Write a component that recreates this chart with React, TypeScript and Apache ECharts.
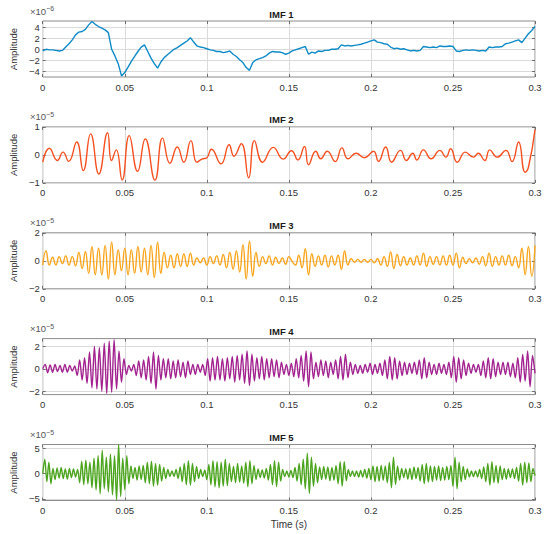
import React, { useEffect, useRef } from "react";
import * as echarts from "echarts";

// ---- Data (amplitudes in units of the axis multiplier shown above each panel) ----
const IMF1_STEP = 0.002; // s
const imf1 = [
  -0.3, 0.0, -0.1, -0.1, -0.2, -0.3, -0.2, 0.4, 1.0, 1.7,
  2.6, 3.1, 3.2, 3.6, 4.4, 5.0, 4.5, 4.1, 3.8, 3.5,
  3.0, 0.0, -1.2, -2.6, -4.8, -4.2, -3.2, -2.2, -1.3, -0.4,
  0.4, 0.8, -0.4, -1.6, -2.6, -3.4, -2.3, -1.5, -1.0, -0.5,
  0.0, 0.3, 0.7, 1.1, 1.5, 2.1, 1.3, 0.6, 0.4, 0.3,
  0.1, -0.1, -0.2, -0.4, -0.4, -0.6, -0.5, -0.3, -0.9, -1.3,
  -1.9, -2.4, -3.3, -3.8, -2.4, -1.9, -1.7, -1.5, -1.2, -0.7,
  -0.4, -0.5, -0.5, -0.6, -0.9, -0.7, -0.3, -0.1, 0.1, 0.3,
  0.5, -0.9, -0.5, -0.7, -0.3, -0.4, -0.2, -0.2, 0.0, 0.0,
  0.1, 0.8, 0.6, 0.7, 0.6, 0.7, 0.8, 0.9, 1.1, 1.3,
  1.5, 1.7, 1.3, 1.2, 1.0, 0.9, 0.4, 0.1, 0.2, 0.0,
  0.1, -0.1, -0.3, -0.2, -0.3, -0.2, 0.5, 0.4, 0.3, 0.4,
  0.3, 0.6, 0.5, 0.5, 0.6, 0.5, -0.3, -0.4, -0.2, -0.1,
  -0.2, -0.1, -0.2, -0.3, -0.2, -0.3, 0.4, 0.3, 0.4, 0.4,
  0.5, 1.0, 1.1, 1.3, 1.5, 1.7, 1.2, 2.0, 2.8, 3.4,
  4.1,
];

const imf2Time = [
  0.0, 0.004, 0.0089, 0.0124, 0.0158, 0.0207, 0.0247, 0.0292, 0.0342, 0.0395,
  0.0419, 0.0448, 0.0484, 0.0527, 0.0578, 0.0625, 0.0684, 0.073, 0.0775, 0.082,
  0.086, 0.0903, 0.0939, 0.097, 0.1, 0.1028, 0.1087, 0.1136, 0.1165, 0.121,
  0.1255, 0.129, 0.134, 0.1405, 0.1465, 0.1516, 0.1555, 0.1595, 0.162, 0.1664,
  0.1694, 0.1734, 0.1783, 0.1823, 0.186, 0.191, 0.196, 0.2016, 0.2046, 0.209,
  0.2126, 0.218, 0.2216, 0.2255, 0.228, 0.232, 0.2367, 0.242, 0.2457, 0.2486,
  0.2526, 0.2575, 0.2625, 0.2654, 0.2694, 0.2724, 0.277, 0.2823, 0.286, 0.29,
  0.294, 0.296, 0.3,
];
const imf2Value = [
  -0.26, 0.24, -0.2, 0.1, -0.23, 0.46, -0.56, 0.75, -0.68, 0.79,
  -0.2, 0.18, -0.9, 0.69, -0.59, 0.57, -0.9, 0.6, -0.3, 0.28,
  -0.26, 0.51, -0.26, -0.15, -0.1, 0.2, -0.32, 0.36, -0.05, 0.4,
  -0.82, 0.51, -0.26, 0.27, -0.15, 0.15, -0.18, 0.3, -0.35, 0.13,
  -0.14, 0.13, -0.24, 0.25, -0.14, 0.06, -0.1, 0.13, -0.23, 0.28,
  -0.26, 0.16, -0.2, 0.06, -0.18, 0.18, -0.14, 0.16, -0.08, 0.22,
  -0.26, 0.1, -0.08, 0.06, -0.2, 0.18, -0.08, 0.16, -0.24, 0.46,
  -0.62, -0.44, 0.9,
];

const IMF3_STEP = 0.002;
const imf3 = [
  -0.3, 0.7, -0.3, 0.25, -0.3, 0.3, -0.2, 0.35, -0.3, 0.3,
  -0.35, 0.6, -0.55, 0.65, -0.9, 1.0, -1.0, 0.9, -1.0, 1.1,
  -1.3, 1.35, -1.0, 0.8, -0.7, 0.9, -1.0, 0.8, -0.9, 1.0,
  -0.8, 0.9, -1.0, 1.1, -1.2, 1.35, -0.9, 0.6, -0.5, 0.4,
  -0.5, 0.5, -0.4, 0.5, -0.4, 0.55, -0.3, 0.2, -0.15, 0.2,
  -0.3, 0.3, -0.2, 0.35, -0.3, 0.45, -0.5, 0.6, -0.6, 0.7,
  -0.8, 1.15, -1.3, 1.4, -1.1, 0.6, -0.4, 0.3, -0.2, 0.35,
  -0.3, 0.25, -0.2, 0.2, -0.25, 0.3, -0.05, -0.3, 0.4, -0.5,
  0.87, -1.0, 0.5, -0.4, 0.35, -0.3, 0.4, -0.45, 0.35, -0.3,
  0.4, -0.6, 0.7, -0.3, 0.15, -0.1, 0.1, -0.1, 0.1, -0.1,
  0.1, -0.15, 0.15, -0.3, 0.3, -0.4, 0.64, -0.55, 0.45, -0.35,
  0.3, -0.3, 0.2, -0.3, 0.35, -0.3, 0.55, -0.4, 0.3, -0.25,
  0.3, -0.3, 0.35, -0.3, 0.4, -0.3, 0.55, -0.5, 0.25, -0.2,
  0.15, -0.15, 0.2, -0.25, 0.3, -0.35, 0.55, -0.4, 0.3, -0.3,
  0.35, -0.3, 0.4, -0.35, 0.3, -0.5, 0.9, -1.0, 1.0, -1.1,
  1.1,
];

const IMF4_STEP = 0.0015;
const imf4 = [
  0.0, 0.4, -0.35, 0.35, -0.3, 0.4, -0.25, 0.3, -0.3, 0.4,
  -0.3, 0.3, -0.2, 0.25, -0.6, 0.8, -1.0, 1.0, -1.3, 1.5,
  -1.7, 2.0, -1.8, 1.9, -2.0, 2.3, -2.2, 2.5, -2.1, 2.6,
  -1.8, 1.6, -1.2, 0.9, -0.5, 0.3, -0.2, 0.4, -0.6, 0.7,
  -0.8, 0.8, -1.0, 1.1, -1.3, 1.5, -1.8, 1.2, -1.0, 0.9,
  -0.8, 0.9, -0.9, 0.7, -0.8, 0.8, -0.7, 0.6, -0.8, 0.7,
  -0.5, 0.4, -0.5, 0.4, -0.3, 0.4, -0.6, 0.9, -1.1, 1.0,
  -1.0, 1.1, -1.0, 0.9, -1.1, 1.0, -0.9, 1.1, -1.2, 1.2,
  -1.0, 1.3, -1.3, 1.6, -1.5, 1.3, -1.1, 1.0, -0.9, 1.1,
  -1.0, 0.9, -0.8, 0.9, -0.7, 0.8, -0.8, 0.6, -0.5, 0.4,
  -0.6, 0.5, -0.7, 0.9, -0.8, 1.2, -1.1, 1.6, -1.6, 1.5,
  -0.9, 0.6, -0.7, 0.8, -0.6, 0.7, -0.8, 0.6, -0.5, 0.8,
  -0.9, 1.1, -1.0, 1.3, -0.8, 0.6, -0.5, 0.4, -0.4, 0.3,
  -0.4, 0.4, -0.3, 0.5, -0.5, 0.4, -0.4, 0.5, -0.6, 0.8,
  -0.9, 1.1, -1.0, 1.0, -0.9, 0.7, -0.6, 0.6, -0.5, 0.5,
  -0.4, 0.6, -0.5, 0.8, -0.9, 1.0, -0.8, 0.6, -0.5, 0.4,
  -0.5, 0.5, -0.4, 0.4, -0.5, 0.6, -0.8, 1.1, -1.2, 1.0,
  -0.9, 0.8, -0.6, 0.5, -0.4, 0.4, -0.3, 0.4, -0.6, 0.7,
  -0.8, 1.0, -0.9, 0.9, -0.7, 0.6, -0.5, 0.6, -0.5, 0.6,
  -0.7, 0.5, -0.8, 1.0, -1.2, 1.3, -1.1, 1.6, -1.6, 1.2,
  -0.4,
];

const IMF5_STEP = 0.00125;
const imf5 = [
  0.0, 2.8, -1.6, 2.2, -2.0, 1.0, -1.2, 1.1, -0.9, 1.2,
  -1.0, 0.9, -1.1, 1.0, -0.8, 0.9, -0.7, 0.8, -1.8, 2.4,
  -2.2, 2.6, -2.0, 2.2, -2.8, 3.0, -3.2, 3.5, -4.0, 4.6,
  -3.0, 3.2, -3.6, 3.8, -4.2, 3.5, -5.2, 5.7, -4.5, 3.0,
  -3.2, 3.5, -2.0, 1.5, -1.0, 1.2, -1.3, 1.5, -1.2, 1.6,
  -1.8, 2.2, -2.0, 2.4, -2.5, 2.0, -2.3, 1.8, -1.5, 1.2,
  -1.0, 0.8, -0.6, 0.5, -0.6, 0.8, -1.0, 1.3, -1.6, 2.0,
  -2.2, 2.5, -2.3, 2.0, -1.6, 1.4, -1.0, 0.8, -0.6, 0.7,
  -1.2, 1.8, -2.2, 2.5, -2.6, 2.3, -2.8, 2.2, -2.5, 2.8,
  -2.4, 2.0, -1.6, 1.4, -1.8, 2.0, -1.7, 1.5, -1.9, 2.2,
  -2.6, 2.5, -2.0, 1.6, -1.2, 0.9, -0.8, 0.7, -0.9, 1.0,
  -1.3, 1.8, -2.2, 2.5, -2.6, 2.2, -1.5, 0.8, -0.6, 0.5,
  -0.7, 0.6, -0.8, 1.2, -1.5, 2.0, -2.2, 2.8, -3.0, 4.0,
  -3.9, 3.2, -2.5, 2.0, -1.8, 1.3, -1.2, 1.4, -1.1, 1.3,
  -1.4, 1.2, -1.3, 1.6, -2.0, 2.3, -2.5, 2.3, -1.4, 0.8,
  -0.6, 0.5, -0.6, 0.5, -0.7, 0.6, -0.7, 0.8, -0.9, 1.0,
  -1.2, 1.5, -1.6, 1.4, -1.5, 1.6, -1.3, 1.5, -1.8, 2.2,
  -2.8, 3.2, -2.2, 1.5, -1.3, 1.0, -0.8, 0.9, -1.1, 1.0,
  -1.2, 1.3, -1.0, 1.2, -1.5, 1.8, -2.0, 2.0, -1.7, 1.5,
  -1.6, 1.4, -1.3, 1.5, -1.4, 1.2, -1.3, 1.4, -1.2, 1.6,
  -2.5, 3.2, -3.0, 2.2, -1.6, 1.4, -1.2, 0.9, -0.7, 0.5,
  -0.6, 0.5, -0.7, 0.8, -1.0, 1.3, -1.6, 2.0, -2.3, 2.3,
  -1.8, 1.6, -1.9, 1.5, -1.2, 1.0, -1.1, 0.9, -0.8, 0.9,
  -1.0, 1.2, -1.5, 2.0, -2.3, 2.2, -1.8, 2.1, -1.6, 1.0,
  -0.4,
];

const titles = ["IMF 1", "IMF 2", "IMF 3", "IMF 4", "IMF 5"];
const exponents = ["\u22126", "\u22125", "\u22125", "\u22125", "\u22125"];
const yRanges = [
  [-5, 5.1],
  [-1, 1],
  [-2, 2],
  [-2.3, 2.7],
  [-5.3, 5.7],
];
const yTicks = [
  [-4, -2, 0, 2, 4],
  [-1, 0, 1],
  [-2, 0, 2],
  [-2, 0, 2],
  [-5, 0, 5],
];
const X_MIN = 0;
const X_MAX = 0.3;
const X_INTERVAL = 0.05;

const colors = ["#0d8bc7", "#f5501f", "#f9a51b", "#a2238f", "#4ca51e"];

const uniform = (arr: number[], step: number) =>
  arr.map((v, i) => [+(i * step).toFixed(6), v]);

const seriesData = [
  uniform(imf1, IMF1_STEP),
  imf2Time.map((t, i) => [t, imf2Value[i]]),
  uniform(imf3, IMF3_STEP),
  uniform(imf4, IMF4_STEP),
  uniform(imf5, IMF5_STEP),
];
const smoothness = [false, 0.5, 0.5, 0.3, 0.3];

// ---- Layout ----
const FONT = "'Liberation Sans', Arial, Helvetica, sans-serif";
const LEFT = 28;
const RIGHT = 15;
const PANEL_H = 56;
const TOPS = [21, 126.9, 232.8, 338.6, 444.5];
const TEXT = "#333333";
const FRAME = "#8c8c8c";
const GRID_LINE = "#dadada";

export default function App() {
  const ref = useRef<HTMLDivElement>(null);

  useEffect(() => {
    if (!ref.current) return;
    const chart = echarts.init(ref.current, undefined, { renderer: "svg" });

    const grid: any[] = [];
    const xAxis: any[] = [];
    const yAxis: any[] = [];
    const series: any[] = [];
    const graphic: any[] = [];

    const tick = { show: true, inside: true, length: 3, lineStyle: { color: "#6e6e6e" } };

    TOPS.forEach((top, i) => {
      grid.push({
        left: LEFT,
        right: RIGHT,
        top,
        height: PANEL_H,
        show: true,
        borderColor: FRAME,
        borderWidth: 1,
        backgroundColor: "transparent",
        containLabel: false,
      });
      const isLast = i === TOPS.length - 1;
      xAxis.push({
        type: "value",
        gridIndex: i,
        position: "bottom",
        min: X_MIN,
        max: X_MAX,
        interval: X_INTERVAL,
        axisLine: { show: false, onZero: false },
        axisTick: tick,
        axisLabel: {
          color: TEXT,
          fontSize: 9.5,
          fontFamily: FONT,
          margin: 5,
          formatter: (v: number) => String(parseFloat(v.toFixed(3))),
        },
        splitLine: { show: true, lineStyle: { color: GRID_LINE, width: 1 } },
        name: isLast ? "Time (s)" : "",
        nameLocation: "middle",
        nameGap: 19,
        nameTextStyle: { color: TEXT, fontSize: 10, fontFamily: FONT },
      });
      xAxis.push({
        type: "value",
        gridIndex: i,
        position: "top",
        min: X_MIN,
        max: X_MAX,
        interval: X_INTERVAL,
        axisLine: { show: false, onZero: false },
        axisTick: tick,
        axisLabel: { show: false },
        splitLine: { show: false },
      });
      yAxis.push({
        type: "value",
        gridIndex: i,
        position: "left",
        min: yRanges[i][0],
        max: yRanges[i][1],
        axisLine: { show: false, onZero: false },
        axisTick: { ...tick, customValues: yTicks[i] },
        axisLabel: {
          color: TEXT,
          fontSize: 9.5,
          fontFamily: FONT,
          margin: 3,
          customValues: yTicks[i],
          formatter: (v: number) => (v < 0 ? "\u2212" + String(-v) : String(v)),
        },
        splitLine: { show: true, lineStyle: { color: GRID_LINE, width: 1 } },
        name: "Amplitude",
        nameLocation: "middle",
        nameGap: 11,
        nameTextStyle: { color: TEXT, fontSize: 9.5, fontFamily: FONT },
      });
      yAxis.push({
        type: "value",
        gridIndex: i,
        position: "right",
        min: yRanges[i][0],
        max: yRanges[i][1],
        axisLine: { show: false, onZero: false },
        axisTick: { ...tick, customValues: yTicks[i] },
        axisLabel: { show: false, customValues: yTicks[i] },
        splitLine: { show: false },
      });
      series.push({
        type: "line",
        xAxisIndex: i * 2,
        yAxisIndex: i * 2,
        data: seriesData[i],
        showSymbol: false,
        symbol: "none",
        smooth: smoothness[i],
        lineStyle: { color: colors[i], width: 1.4 },
        itemStyle: { color: colors[i] },
        clip: true,
        z: 3,
      });
      graphic.push({
        type: "text",
        x: LEFT + (550 - LEFT - RIGHT) / 2,
        y: top - 7,
        style: {
          text: titles[i],
          fill: "#1a1a1a",
          font: `bold 9.5px ${FONT}`,
          textAlign: "center",
          textVerticalAlign: "middle",
        },
      });
      graphic.push({
        type: "text",
        x: LEFT + 2,
        y: top - 16,
        style: {
          text: `{a|\u00d710}{b|${exponents[i]}}`,
          rich: {
            a: { fontSize: 9.5, fontFamily: FONT, fill: "#555555", lineHeight: 11, verticalAlign: "bottom" },
            b: { fontSize: 7, fontFamily: FONT, fill: "#555555", verticalAlign: "top" },
          },
          textAlign: "left",
          textVerticalAlign: "top",
        },
      });
    });

    chart.setOption({
      animation: false,
      backgroundColor: "#ffffff",
      textStyle: { fontFamily: FONT },
      grid,
      xAxis,
      yAxis,
      series,
      graphic: { elements: graphic },
    });

    return () => chart.dispose();
  }, []);

  return (
    <div
      ref={ref}
      style={{ position: "absolute", left: 0, top: 0, width: 550, height: 534 }}
    />
  );
}
